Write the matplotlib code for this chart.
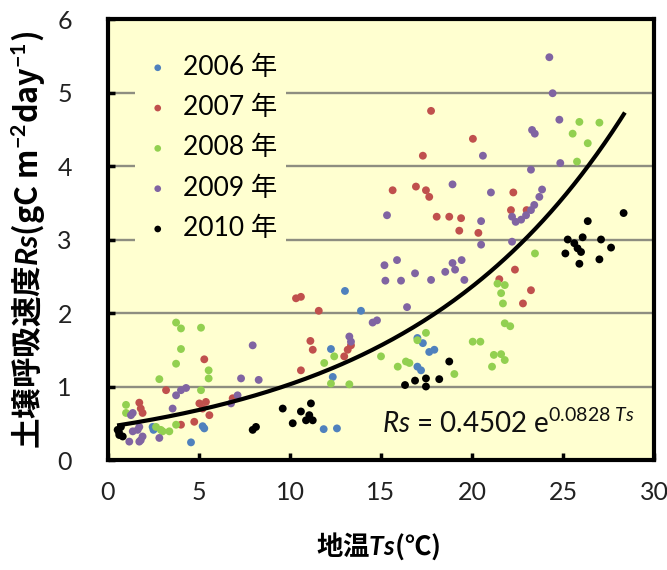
import numpy as np
import matplotlib
matplotlib.use("Agg")
import matplotlib.pyplot as plt

# ---------------- data ----------------
years = ["2006 年", "2007 年", "2008 年", "2009 年", "2010 年"]
colors = ["#4F81BD", "#C0504D", "#92D050", "#8064A2", "#000000"]

ts_2006 = [13.02, 13.9, 12.25, 17.0, 17.3, 17.65, 17.93, 17.0, 17.2, 12.35, 11.85, 12.58,
           5.2, 5.29, 4.56, 2.45, 2.5]
rs_2006 = [2.30, 2.03, 1.51, 1.66, 1.59, 1.47, 1.50, 1.27, 1.22, 1.13, 0.42, 0.43,
           0.46, 0.43, 0.24, 0.45, 0.41]

ts_2007 = [17.75, 20.05, 17.3, 15.64, 16.92, 17.47, 17.65, 18.06, 18.75, 19.4, 19.3, 20.35,
           22.27, 22.14, 23.0, 22.36, 21.5, 23.24, 22.8, 10.33, 10.6, 11.58, 11.12, 11.25,
           13.35, 13.17, 12.98, 10.6, 5.29, 1.72, 3.19, 5.02, 5.38, 5.2, 5.57, 6.85, 1.9,
           4.74, 4.01, 1.8]
rs_2007 = [4.75, 4.37, 4.14, 3.67, 3.72, 3.67, 3.58, 3.31, 3.31, 3.29, 3.12, 3.09,
           3.64, 3.40, 3.40, 2.59, 2.46, 2.31, 2.13, 2.20, 2.22, 2.03, 1.62, 1.50,
           1.56, 1.50, 1.41, 1.22, 1.37, 0.78, 0.95, 0.77, 0.79, 0.70, 0.61, 0.84, 0.64,
           0.52, 0.48, 0.70]

ts_2008 = [25.9, 27.0, 25.53, 26.36, 25.77, 23.46, 21.4, 21.8, 21.6, 21.7, 21.8, 22.1,
           20.04, 20.46, 21.2, 21.6, 21.8, 21.1, 17.47, 17.0, 15.0, 15.92, 16.37, 16.56,
           19.03, 12.43, 11.88, 12.25, 13.26, 3.74, 4.01, 5.11, 4.01, 3.74, 5.53, 5.53,
           2.82, 5.11, 0.99, 0.99, 3.0, 3.37, 3.74, 2.64, 2.9]
rs_2008 = [4.60, 4.59, 4.44, 4.31, 4.06, 2.81, 2.40, 2.38, 2.27, 2.13, 1.86, 1.82,
           1.61, 1.61, 1.43, 1.44, 1.36, 1.27, 1.73, 1.63, 1.41, 1.27, 1.34, 1.32,
           1.17, 1.41, 1.32, 1.04, 1.03, 1.87, 1.79, 1.80, 1.51, 1.31, 1.22, 1.11,
           1.10, 0.95, 0.75, 0.64, 0.39, 0.39, 0.48, 0.45, 0.41]

ts_2009 = [24.25, 24.43, 24.8, 23.3, 23.45, 20.6, 24.85, 23.24, 21.04, 23.85, 23.7, 23.42,
           23.24, 22.97, 22.7, 22.4, 22.2, 20.5, 20.5, 22.2, 18.93, 15.33, 15.19, 15.88,
           15.24, 16.1, 16.87, 17.75, 18.53, 18.93, 19.07, 19.43, 19.58, 16.43, 14.54,
           14.78, 13.26, 13.35, 7.95, 7.31, 8.28, 4.01, 4.29, 3.74, 7.12, 6.76, 3.55,
           1.36, 1.72, 1.36, 1.9, 1.17, 1.72, 2.82, 1.26, 1.63, 1.8]
rs_2009 = [5.48, 4.99, 4.63, 4.49, 4.44, 4.14, 4.04, 3.95, 3.64, 3.68, 3.58, 3.47,
           3.40, 3.33, 3.27, 3.24, 3.31, 3.25, 2.93, 2.97, 3.75, 3.33, 2.65, 2.72,
           2.44, 2.44, 2.54, 2.45, 2.56, 2.68, 2.59, 2.72, 2.45, 2.08, 1.87,
           1.90, 1.68, 1.61, 1.56, 1.11, 1.09, 0.95, 0.98, 0.88, 0.88, 0.77, 0.70,
           0.64, 0.45, 0.39, 0.32, 0.25, 0.25, 0.30, 0.61, 0.41, 0.27]

ts_2010 = [28.33, 26.36, 25.26, 25.62, 26.08, 25.8, 25.13, 25.99, 25.9, 27.09, 27.64, 27.0,
           18.75, 16.32, 16.87, 17.47, 17.47, 18.2, 11.15, 10.6, 11.06, 11.25, 10.15, 10.88,
           9.6, 7.95, 8.13, 0.71, 0.62, 0.81, 0.53, 0.6]
rs_2010 = [3.36, 3.25, 3.00, 2.95, 3.03, 2.88, 2.81, 2.83, 2.67, 3.00, 2.89, 2.73,
           1.34, 1.02, 1.08, 1.11, 1.00, 1.10, 0.77, 0.66, 0.61, 0.54, 0.50, 0.54,
           0.70, 0.41, 0.45, 0.45, 0.34, 0.32, 0.41, 0.38]

fit_a = 0.4502
fit_b = 0.0828
fit_ts_min, fit_ts_max = 0.5, 28.4

x_ticks = [0, 5, 10, 15, 20, 25, 30]
y_ticks = [0, 1, 2, 3, 4, 5, 6]

# ---------------- style ----------------
plt.rcParams['mathtext.fontset'] = 'custom'
plt.rcParams['mathtext.rm'] = 'Lato'
plt.rcParams['mathtext.it'] = 'Lato:italic'
plt.rcParams['mathtext.bf'] = 'Lato:bold'
plt.rcParams['mathtext.bfit'] = 'Lato:italic:bold'

BG = "#FFFFD0"
GRID = "#8E8E80"

fig = plt.figure(figsize=(6.67, 5.70), dpi=100)
fig.patch.set_facecolor("white")
ax = fig.add_axes([108 / 667, 110 / 570, 546 / 667, 441 / 570])
ax.set_facecolor(BG)

series = [(ts_2006, rs_2006), (ts_2007, rs_2007), (ts_2008, rs_2008),
          (ts_2009, rs_2009), (ts_2010, rs_2010)]
for (xs, ys), lab, c in zip(series, years, colors):
    ax.scatter(xs, ys, s=32, color=c, edgecolors="none", label=lab, zorder=3)

tt = np.linspace(fit_ts_min, fit_ts_max, 200)
ax.plot(tt, fit_a * np.exp(fit_b * tt), color="black", lw=3.0, zorder=4,
        solid_capstyle="butt")

ax.set_xlim(0, 30)
ax.set_ylim(0, 6)
ax.set_xticks(x_ticks)
ax.set_yticks(y_ticks)
for yv in y_ticks[1:-1]:
    ax.axhline(yv, color=GRID, lw=1.7, zorder=1)

for sp in ax.spines.values():
    sp.set_linewidth(3.0)
    sp.set_color("black")
    sp.set_zorder(6)

ax.tick_params(axis='both', direction='in', length=5, width=2.5, color='black')
ax.tick_params(axis='y', pad=26)
ax.tick_params(axis='x', pad=15)
for lab in ax.get_xticklabels() + ax.get_yticklabels():
    lab.set_fontfamily('Lato')
    lab.set_fontsize(18)
    lab.set_color('#222222')

leg = ax.legend(loc='upper left', bbox_to_anchor=(0.05, 0.94),
                prop={'family': ['Lato', 'Noto Sans CJK JP'], 'size': 19},
                frameon=True, facecolor=BG, edgecolor='none', framealpha=1.0,
                markerscale=0.85, handletextpad=0.45, labelspacing=0.58,
                borderpad=0.35, handlelength=1.0, borderaxespad=0.0)
leg.set_zorder(5)
leg.get_frame().set_boxstyle('square', pad=0.0)

# equation
ax.text(15.05, 0.37, r"$\mathit{Rs}$ = 0.4502 e$^{\mathrm{0.0828}\ \mathit{Ts}}$",
        fontsize=20, family='Lato', color='#111111', ha='left', va='baseline', zorder=5)

# axis labels
fig.text(378 / 667, 1 - 546 / 570, r"地温$\mathbfit{Ts}$(℃)",
         family='Noto Sans CJK JP', weight='bold', fontsize=19,
         ha='center', va='center')
fig.text(28 / 667, 1 - 240 / 570,
         r"土壌呼吸速度$\mathbfit{Rs}$(gC m$^{\mathbf{-2}}$day$^{\mathbf{-1}}$)",
         family='Noto Sans CJK JP', weight='bold', fontsize=22,
         rotation=90, ha='center', va='center')

fig.savefig("out.png", dpi=100, facecolor="white")
